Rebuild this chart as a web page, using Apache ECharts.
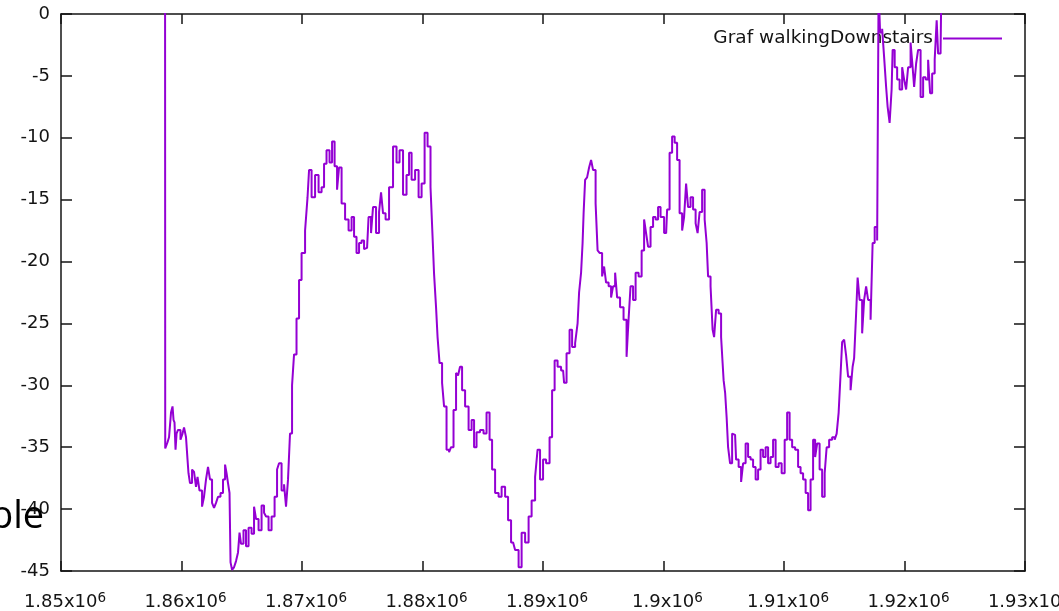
<!DOCTYPE html>
<html>
<head>
<meta charset="utf-8">
<title>Graf walkingDownstairs</title>
<script src="https://cdn.jsdelivr.net/npm/echarts@6/dist/echarts.min.js"></script>
<style>
  html, body { margin: 0; padding: 0; background: #ffffff; }
  #chart { width: 1059px; height: 611px; }
</style>
</head>
<body>
<div id="chart"></div>
<script>
// walkingDownstairs trace: time stamp and signal value
const timeStamps = [
  1858630, 1858670, 1858800, 1858880, 1859050, 1859210, 1859300, 1859380, 1859460, 1859550,
  1859630, 1859790, 1860040, 1860130, 1860290, 1860460, 1860540, 1860620, 1860790, 1860960,
  1861120, 1861290, 1861370, 1861620, 1861790, 1861950, 1862120, 1862280, 1862450, 1862620,
  1862780, 1862950, 1863110, 1863360, 1863530, 1863700, 1863780, 1863940, 1864030, 1864110,
  1864280, 1864440, 1864610, 1864770, 1864860, 1865020, 1865270, 1865440, 1865690, 1865940,
  1866100, 1866270, 1866520, 1866770, 1866930, 1867100, 1867350, 1867600, 1867850, 1868010,
  1868180, 1868430, 1868590, 1868760, 1868920, 1869090, 1869260, 1869420, 1869670, 1869840,
  1870090, 1870420, 1870500, 1870670, 1870920, 1871250, 1871500, 1871750, 1871910, 1872160,
  1872410, 1872580, 1872830, 1872990, 1873160, 1873410, 1873740, 1873990, 1874240, 1874400,
  1874650, 1874820, 1875070, 1875230, 1875400, 1875650, 1875810, 1875980, 1876310, 1876480,
  1876640, 1876810, 1877060, 1877390, 1877720, 1877970, 1878220, 1878550, 1878800, 1878970,
  1879220, 1879550, 1879800, 1880050, 1880300, 1880540, 1880790, 1880880, 1881040, 1881210,
  1881290, 1881540, 1881710, 1881870, 1882120, 1882290, 1882450, 1882700, 1882870, 1883030,
  1883200, 1883370, 1883700, 1883950, 1884200, 1884360, 1884610, 1884940, 1885190, 1885440,
  1885690, 1885860, 1886190, 1886440, 1886690, 1887020, 1887180, 1887520, 1887850, 1888100,
  1888350, 1888680, 1888930, 1889180, 1889510, 1889590, 1889920, 1890090, 1890420, 1890670,
  1890840, 1891090, 1891330, 1891670, 1891830, 1892080, 1892330, 1892500, 1892830, 1892910,
  1893080, 1893240, 1893330, 1893410, 1893580, 1893740, 1893910, 1894070, 1894240, 1894490,
  1894570, 1894820, 1894990, 1895150, 1895320, 1895570, 1895730, 1895900, 1896070, 1896230,
  1896560, 1896810, 1897060, 1897140, 1897390, 1897560, 1897810, 1898060, 1898310, 1898470,
  1898640, 1898800, 1899050, 1899220, 1899470, 1899630, 1899880, 1900220, 1900380, 1900630,
  1900800, 1901050, 1901210, 1901460, 1901630, 1901790, 1901960, 1902120, 1902370, 1902540,
  1902790, 1902870, 1903120, 1903290, 1903540, 1903620, 1903780, 1904030, 1904120, 1904280,
  1904450, 1904700, 1904860, 1904950, 1905030, 1905200, 1905280, 1905440, 1905610, 1905780,
  1905940, 1906110, 1906360, 1906520, 1906690, 1906940, 1907100, 1907350, 1907520, 1907770,
  1907930, 1908180, 1908350, 1908600, 1908760, 1909010, 1909180, 1909430, 1909680, 1909930,
  1910180, 1910340, 1910590, 1910760, 1911090, 1911250, 1911500, 1911670, 1911920, 1912080,
  1912330, 1912500, 1912670, 1912830, 1913080, 1913250, 1913500, 1913580, 1913910, 1914080,
  1914330, 1914410, 1914660, 1914740, 1914910, 1915070, 1915240, 1915400, 1915650, 1915740,
  1915900, 1916070, 1916150, 1916400, 1916570, 1916730, 1916900, 1917060, 1917310, 1917400,
  1917650, 1917810, 1917890, 1918060, 1918230, 1918390, 1918560, 1918640, 1918890, 1918970,
  1919060, 1919310, 1919470, 1919720, 1919890, 1920050, 1920220, 1920380, 1920630, 1920720,
  1920880, 1921050, 1921210, 1921460, 1921630, 1921880, 1922040, 1922210, 1922380, 1922630,
  1922710, 1922870, 1923120, 1923200
];

const signalValues = [
  20, -35.1, -35.0, -34.6, -34.2, -32.2, -31.7, -32.8, -33.0, -35.2,
  -33.9, -33.6, -34.4, -33.9, -33.4, -34.2, -36.0, -37.1, -37.9, -36.8,
  -37.0, -38.2, -37.4, -38.5, -39.8, -39.0, -37.6, -36.6, -37.6, -39.5,
  -39.9, -39.5, -39.0, -38.7, -37.6, -36.4, -37.1, -37.9, -38.7, -44.3,
  -44.9, -44.7, -44.2, -43.5, -41.9, -42.8, -41.7, -43.0, -41.5, -42.0,
  -39.8, -40.8, -41.7, -39.7, -40.3, -40.6, -41.7, -40.6, -39.0, -36.8,
  -36.3, -38.5, -38.0, -39.8, -37.6, -33.9, -30.0, -27.5, -24.6, -21.5,
  -19.3, -17.5, -14.8, -12.6, -14.8, -13.0, -14.4, -14.0, -12.1, -11.0,
  -12.0, -10.3, -12.3, -14.2, -12.4, -15.3, -16.6, -17.5, -16.4, -18.0,
  -19.3, -18.5, -18.3, -19.0, -18.9, -16.4, -17.7, -15.6, -17.7, -16.0,
  -14.4, -16.1, -16.6, -14.0, -10.7, -12.0, -11.0, -14.6, -13.0, -11.2,
  -13.4, -12.6, -14.8, -13.7, -9.6, -10.7, -14.0, -18.0, -21.0, -23.7,
  -26.1, -28.2, -29.8, -31.7, -35.2, -35.4, -35.0, -32.0, -29.0, -29.2,
  -28.5, -30.4, -31.7, -33.6, -32.8, -35.0, -33.8, -33.6, -33.9, -32.2,
  -34.4, -36.8, -38.7, -39.0, -38.2, -39.0, -40.9, -42.7, -43.3, -44.7,
  -41.9, -42.7, -40.6, -39.3, -37.4, -35.2, -37.6, -36.0, -36.3, -34.2,
  -30.4, -28.0, -28.5, -28.8, -29.8, -27.4, -25.5, -26.9, -26.6, -25.0,
  -22.5, -20.9, -18.5, -16.1, -13.4, -13.2, -12.4, -11.8, -12.6, -15.3,
  -19.1, -19.3, -21.2, -20.4, -21.7, -22.0, -22.9, -22.0, -20.9, -22.9,
  -23.7, -24.7, -27.7, -24.7, -22.0, -23.1, -20.9, -21.2, -19.1, -16.6,
  -17.7, -18.8, -17.2, -16.4, -16.6, -15.6, -16.4, -17.7, -15.8, -11.2,
  -9.9, -10.4, -11.8, -16.1, -17.5, -16.4, -13.7, -15.6, -14.8, -15.8,
  -16.9, -17.7, -16.0, -14.2, -16.6, -18.5, -21.2, -22.0, -25.5, -26.1,
  -23.9, -24.2, -26.1, -28.2, -29.6, -30.6, -32.6, -35.0, -36.3, -33.9,
  -34.0, -36.0, -36.6, -37.8, -36.3, -34.7, -35.8, -36.0, -36.6, -37.6,
  -36.8, -35.2, -35.8, -35.0, -36.3, -35.8, -34.4, -36.6, -36.3, -37.1,
  -34.4, -32.2, -34.4, -35.0, -35.2, -36.6, -37.1, -37.6, -38.7, -40.1,
  -37.6, -34.4, -35.8, -34.7, -36.8, -39.0, -37.1, -35.0, -34.4, -34.2,
  -34.4, -33.9, -32.2, -29.0, -26.5, -26.3, -27.6, -29.3, -30.4, -28.5,
  -27.8, -24.2, -21.3, -23.1, -25.8, -23.1, -22.0, -23.1, -24.7, -18.5,
  -17.2, -18.3, 2, -1.5, -1.2, -3.5, -5.9, -7.5, -8.8, -6.1,
  -2.9, -4.3, -5.3, -6.1, -4.3, -5.3, -6.1, -4.3, -2.3, -4.3,
  -5.9, -4.0, -2.9, -6.7, -5.1, -5.3, -3.7, -6.4, -4.8, -3.7,
  -0.5, -3.2, -2.9, 10
];

// axis ranges and tick spacing
const xMin = 1850000, xMax = 1930000, xStep = 10000;
const yMin = -45, yMax = 0, yStep = 5;
const seriesName = 'Graf walkingDownstairs';
const sideText = 'ble';

const points = timeStamps.map((t, i) => [t, signalValues[i]]);

const inkColor = '#141414';
const lineColor = '#9400d3';
const labelFont = 'DejaVu Sans';

function sciLabel(v) {
  const mant = String(+(v / 1e6).toFixed(4));
  return '{b|' + mant + 'x10}{s|6}';
}

const frameAxis = {
  axisLine: { show: true, onZero: false, lineStyle: { color: inkColor, width: 1.5 } },
  axisTick: { show: true, inside: true, length: 10, lineStyle: { color: inkColor, width: 1.5 } },
  splitLine: { show: false }
};
const sideTick = { show: true, inside: true, length: 11, lineStyle: { color: inkColor, width: 1.5 } };

const chart = echarts.init(document.getElementById('chart'), null, { renderer: 'canvas' });

chart.setOption({
  animation: false,
  backgroundColor: '#ffffff',
  grid: { left: 61, right: 34, top: 14, bottom: 40, containLabel: false, outerBoundsMode: 'none' },
  legend: {
    show: true,
    data: [{ name: seriesName, icon: 'path://M0,0H59V2H0Z' }],
    right: 52,
    top: 24,
    align: 'right',
    itemWidth: 59,
    itemHeight: 14,
    z: 1,
    selectedMode: false,
    itemStyle: { color: lineColor, borderWidth: 0 },
    textStyle: {
      fontFamily: labelFont,
      fontSize: 18.5,
      color: inkColor,
      padding: [0, 5, 0, 0]
    }
  },
  xAxis: [
    Object.assign({
      type: 'value', position: 'bottom', min: xMin, max: xMax, interval: xStep,
      axisLabel: {
        show: true, margin: 20, formatter: sciLabel,
        rich: {
          b: { fontFamily: labelFont, fontSize: 18, color: inkColor, lineHeight: 20, verticalAlign: 'bottom', padding: [0, 0, 0, 8] },
          s: { fontFamily: labelFont, fontSize: 13.5, color: inkColor, lineHeight: 8, verticalAlign: 'top' }
        }
      }
    }, frameAxis),
    Object.assign({
      type: 'value', position: 'top', min: xMin, max: xMax, interval: xStep,
      axisLabel: { show: false }
    }, frameAxis)
  ],
  yAxis: [
    Object.assign({
      type: 'value', position: 'left', min: yMin, max: yMax, interval: yStep,
      axisLabel: { show: true, margin: 11, fontFamily: labelFont, fontSize: 18, color: inkColor }
    }, frameAxis, { axisTick: sideTick }),
    Object.assign({
      type: 'value', position: 'right', min: yMin, max: yMax, interval: yStep,
      axisLabel: { show: false }
    }, frameAxis, { axisTick: sideTick })
  ],
  series: [{
    name: seriesName,
    type: 'line',
    xAxisIndex: 0,
    yAxisIndex: 0,
    data: points,
    step: 'middle',
    symbol: 'none',
    clip: true,
    z: 3,
    lineStyle: { color: lineColor, width: 2 },
    itemStyle: { color: lineColor }
  }],
  graphic: [{
    type: 'text',
    x: -10,
    y: 517,
    z: 10,
    style: {
      text: sideText,
      font: '38px "Open Sans"',
      fill: '#000000',
      verticalAlign: 'middle'
    }
  }]
});
</script>
</body>
</html>
